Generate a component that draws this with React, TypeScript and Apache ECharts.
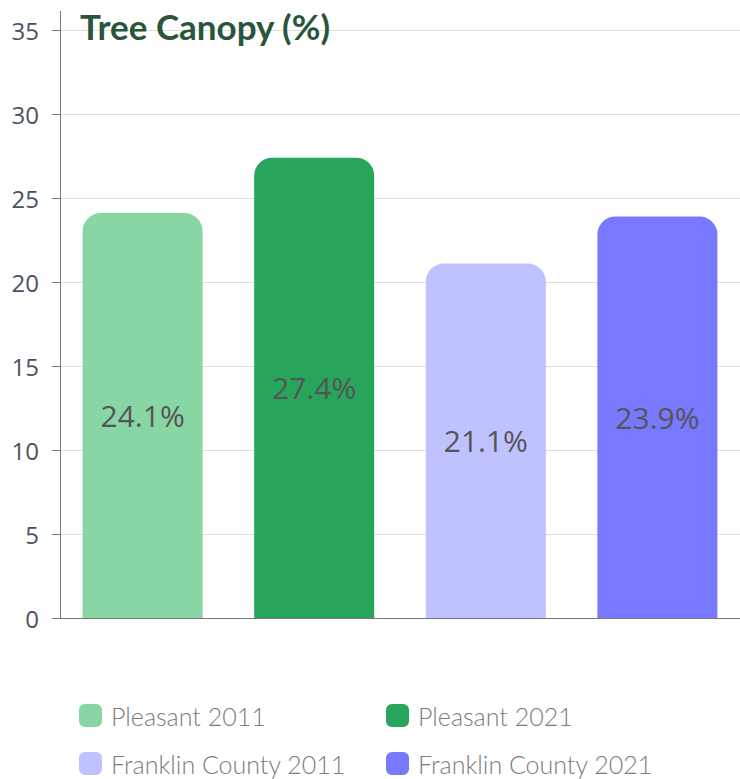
import React, { useEffect, useRef } from "react";
import * as echarts from "echarts";

const categories = [""];
const seriesNames = ["Pleasant 2011", "Pleasant 2021", "Franklin County 2011", "Franklin County 2021"];
const seriesValues = [24.1, 27.4, 21.1, 23.9];
const seriesColors = ["#88d6a4", "#27a55b", "#c0c1ff", "#7879ff"];
const yTicks = [0, 5, 10, 15, 20, 25, 30, 35];

export default function App() {
  const ref = useRef<HTMLDivElement>(null);
  useEffect(() => {
    if (!ref.current) return;
    const chart = echarts.init(ref.current, null, { renderer: "svg" });
    const legendPos = [
      { left: 79, top: 703 },
      { left: 386, top: 703 },
      { left: 79, top: 751 },
      { left: 386, top: 751 },
    ];
    chart.setOption({
      animation: false,
      title: {
        text: "Tree Canopy (%)",
        left: 78,
        top: 3,
        padding: [5, 2],
        textStyle: { fontFamily: "Lato", fontWeight: "bold", fontSize: 35, color: "#2b553a" },
      },
      legend: seriesNames.map((n, i) => ({
        data: [n],
        left: legendPos[i].left,
        top: legendPos[i].top,
        padding: 0,
        icon: "roundRect",
        itemWidth: 23,
        itemHeight: 23,
        itemGap: 10,
        selectedMode: false,
        textStyle: { fontFamily: "Lato", fontSize: 25, lineHeight: 23, color: "#7c7c7c", fontWeight: 300, padding: [0, 0, 0, 4] },
      })),
      grid: { left: 60, right: -4, top: 30, bottom: 161 },
      xAxis: {
        type: "category",
        data: categories,
        axisLine: { lineStyle: { color: "#777" } },
        axisTick: { alignWithLabel: true, length: 8, lineStyle: { color: "#777" } },
        axisLabel: { show: false },
      },
      yAxis: {
        type: "value",
        min: 0,
        max: 35,
        interval: 5,
        axisLine: { show: true, lineStyle: { color: "#777" } },
        axisTick: { show: true, length: 8, lineStyle: { color: "#777" } },
        axisLabel: {
          fontFamily: "Open Sans",
          fontSize: 24,
          color: "#4a5361",
          margin: 21,
          formatter: (v: number) => (yTicks.includes(v) ? String(v) : ""),
        },
        splitLine: { lineStyle: { color: "#dedede" } },
      },
      graphic: [
        {
          type: "line",
          shape: { x1: 60.5, y1: 11, x2: 60.5, y2: 30 },
          style: { stroke: "#777", lineWidth: 1 },
        },
      ],
      series: seriesNames.map((n, i) => ({
        name: n,
        type: "bar",
        data: [seriesValues[i]],
        barWidth: 120,
        barGap: "43%",
        itemStyle: { color: seriesColors[i], borderRadius: [18, 18, 0, 0] },
        label: {
          show: true,
          position: "inside",
          formatter: (p: any) => p.value + "%",
          fontFamily: "Open Sans",
          fontSize: 30,
          color: "#555",
        },
      })),
    });
    return () => chart.dispose();
  }, []);
  return <div ref={ref} style={{ position: "absolute", left: 0, top: 0, width: 740, height: 779 }} />;
}
